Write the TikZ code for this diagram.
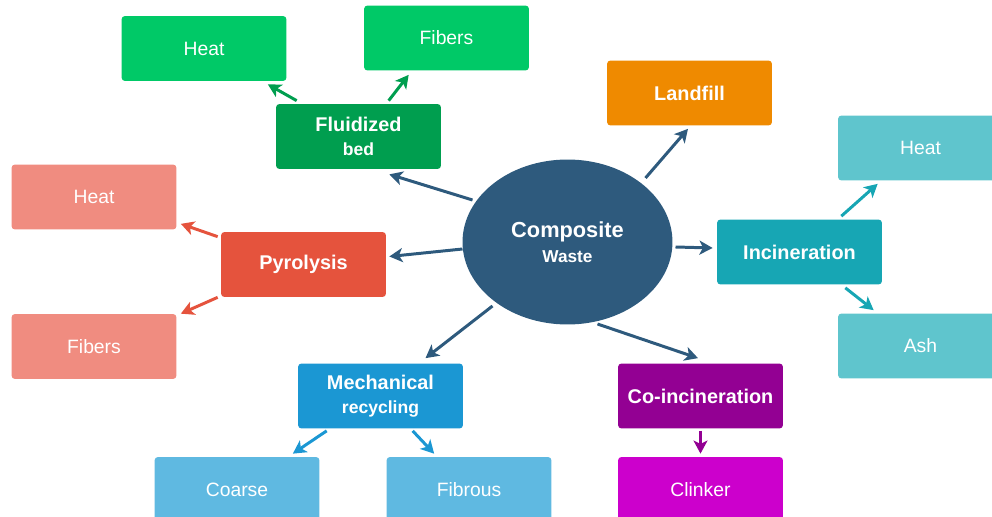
\documentclass[tikz,border=0pt]{standalone}
\usepackage{fontspec}
\setmainfont{Liberation Sans}
\usetikzlibrary{shapes.geometric,arrows.meta,calc}
\definecolor{cnavy}{HTML}{2E5A7D}
\definecolor{cgreen}{HTML}{00C967}
\definecolor{cdgreen}{HTML}{009E4F}
\definecolor{corange}{HTML}{EF8A00}
\definecolor{cteal}{HTML}{17A6B4}
\definecolor{clteal}{HTML}{5FC5CD}
\definecolor{cred}{HTML}{E5533D}
\definecolor{csalmon}{HTML}{F08C80}
\definecolor{cblue}{HTML}{1B97D3}
\definecolor{clblue}{HTML}{5FB9E1}
\definecolor{cpurple}{HTML}{930093}
\definecolor{cmagenta}{HTML}{CC00CC}
\tikzset{
  box/.style={rectangle, rounded corners=2pt, minimum width=3.3cm, minimum height=1.3cm, inner sep=0pt, text=white, align=center},
  mainbox/.style={box, font=\bfseries\fontsize{11.3}{14}\selectfont},
  subbox/.style={box, font=\fontsize{11}{13}\selectfont},
  arr/.style={line width=1.7pt, -{Stealth[length=7.5pt,width=8pt,inset=2pt]}},
}
\begin{document}
\begin{tikzpicture}[x=0.02cm,y=-0.02cm]
\useasboundingbox (0,0) rectangle (992,517);
\clip (0,0) rectangle (992,517);
% central
\node[ellipse, fill=cnavy, minimum width=4.2cm, minimum height=3.3cm, inner sep=0pt, text=white, align=center] (cw) at (567.5,242)
  {{\bfseries\fontsize{12.4}{13}\selectfont Composite}\\[2pt]{\bfseries\fontsize{9.8}{12}\selectfont Waste}};
% main processes
\node[mainbox, fill=cdgreen] (fb) at (358.5,136.5) {Fluidized\\{\fontsize{10}{14}\selectfont bed}};
\node[mainbox, fill=corange] (lf) at (689.5,93) {Landfill};
\node[mainbox, fill=cteal] (inc) at (799.5,252) {Incineration};
\node[mainbox, fill=cred] (pyr) at (303.5,264.5) {Pyrolysis};
\node[mainbox, fill=cblue] (mech) at (380.5,396) {Mechanical\\{\fontsize{10}{14}\selectfont recycling}};
\node[mainbox, fill=cpurple] (coinc) at (700.5,396) {Co-incineration};
% products
\node[subbox, fill=cgreen] (gheat) at (204,48.5) {Heat};
\node[subbox, fill=cgreen] (gfib) at (446.5,38) {Fibers};
\node[subbox, fill=csalmon] (rheat) at (94,197) {Heat};
\node[subbox, fill=csalmon] (rfib) at (94,346.5) {Fibers};
\node[subbox, fill=clteal] (theat) at (920.5,148) {Heat};
\node[subbox, fill=clteal] (ash) at (920.5,346) {Ash};
\node[subbox, fill=clblue] (coarse) at (237,489.5) {Coarse};
\node[subbox, fill=clblue] (fibrous) at (469,489.5) {Fibrous};
\node[subbox, fill=cmagenta] (clinker) at (700.5,489.5) {Clinker};
% arrows from composite waste
\draw[arr, cnavy] ($(cw)+(-95,-42)$) -- ($(fb.south east)+(-52,5)$);
\draw[arr, cnavy] ($(cw)+(-105,7)$) -- ($(pyr.east)+(3,-8)$);
\draw[arr, cnavy] ($(cw)+(78,-64)$) -- ($(lf.south)+(-1.5,3)$);
\draw[arr, cnavy] ($(cw)+(108,5)$) -- ($(inc.west)+(-4,-4)$);
\draw[arr, cnavy] ($(cw)+(-75,64)$) -- ($(mech.north)+(45,-5)$);
\draw[arr, cnavy] ($(cw)+(30,82)$) -- ($(coinc.north)+(-2.5,-5)$);
% secondary arrows
\draw[arr, cdgreen] ($(fb.north west)+(21,-3)$) -- ($(gheat.south east)+(-19,3)$);
\draw[arr, cdgreen] ($(fb.north west)+(113,-3)$) -- ($(gfib.south west)+(45,4)$);
\draw[arr, cred] ($(pyr.north west)+(-3,5)$) -- ($(rheat.south east)+(4,-6)$);
\draw[arr, cred] ($(pyr.south west)+(-3,0)$) -- ($(rfib.north east)+(4,0)$);
\draw[arr, cteal] ($(inc.north east)+(-41,-3)$) -- ($(theat.south west)+(40,3)$);
\draw[arr, cteal] ($(inc.south east)+(-37,3)$) -- ($(ash.north west)+(36,-3)$);
\draw[arr, cblue] ($(mech.south west)+(29,2)$) -- ($(coarse.north east)+(-27,-3)$);
\draw[arr, cblue] ($(mech.south west)+(115,2)$) -- ($(fibrous.north west)+(48,-3)$);
\draw[arr, cpurple] ($(coinc.south)+(0,2)$) -- ($(clinker.north)+(0,-3)$);
\end{tikzpicture}
\end{document}
